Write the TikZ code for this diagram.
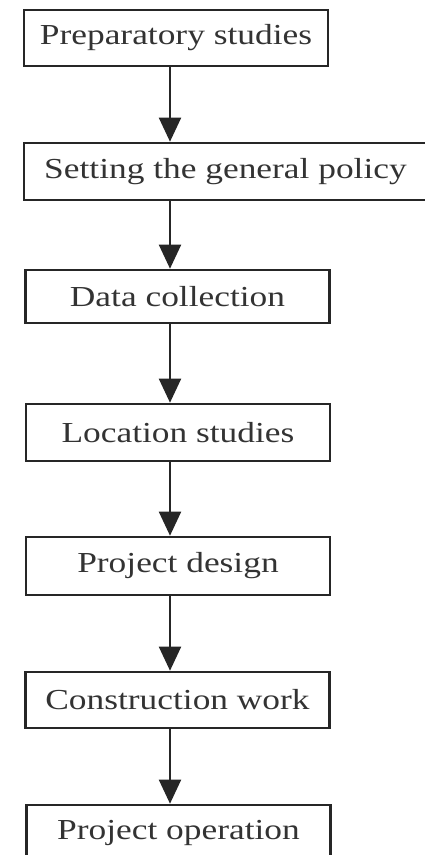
\documentclass[tikz,border=0pt]{standalone}
\usepackage{fontspec}
\setmainfont[FakeStretch=1.22]{Liberation Serif}
\usetikzlibrary{arrows.meta}
\begin{document}
\begin{tikzpicture}[x=1pt,y=-1pt,
        stage/.style={draw=black!85,line width=2.6pt,minimum width=304pt,minimum height=56pt,
            inner sep=0pt,text=black!80,font=\fontsize{29}{34}\selectfont},
        flow/.style={draw=black!85,line width=2pt,-{Triangle[width=22pt,length=24pt]}},
        ]
    \useasboundingbox (0,0) rectangle (424,855);
    \coordinate (spine) at (170,0); % the arrows run down this line
    \node (prep) [stage] at (176,38) {Preparatory studies};
    \node (policy) [stage,minimum width=403pt,minimum height=57pt] at (225.5,171.5) {Setting the general policy};
    \node (data) [stage,minimum height=53pt] at (177.5,296.5) {Data collection};
    \node (loc) [stage,minimum height=57pt] at (178,432.5) {Location studies};
    \node (design) [stage,minimum height=58pt] at (178,566) {Project design};
    \node (constr) [stage] at (177.5,700) {Construction work};
    \node (oper) [stage] at (178.5,833) {Project operation};
    \foreach \a/\b in {prep/policy,policy/data,data/loc,loc/design,design/constr,constr/oper}
        \draw[flow] (\a.south -| spine) -- (\b.north -| spine);
\end{tikzpicture}
\end{document}
